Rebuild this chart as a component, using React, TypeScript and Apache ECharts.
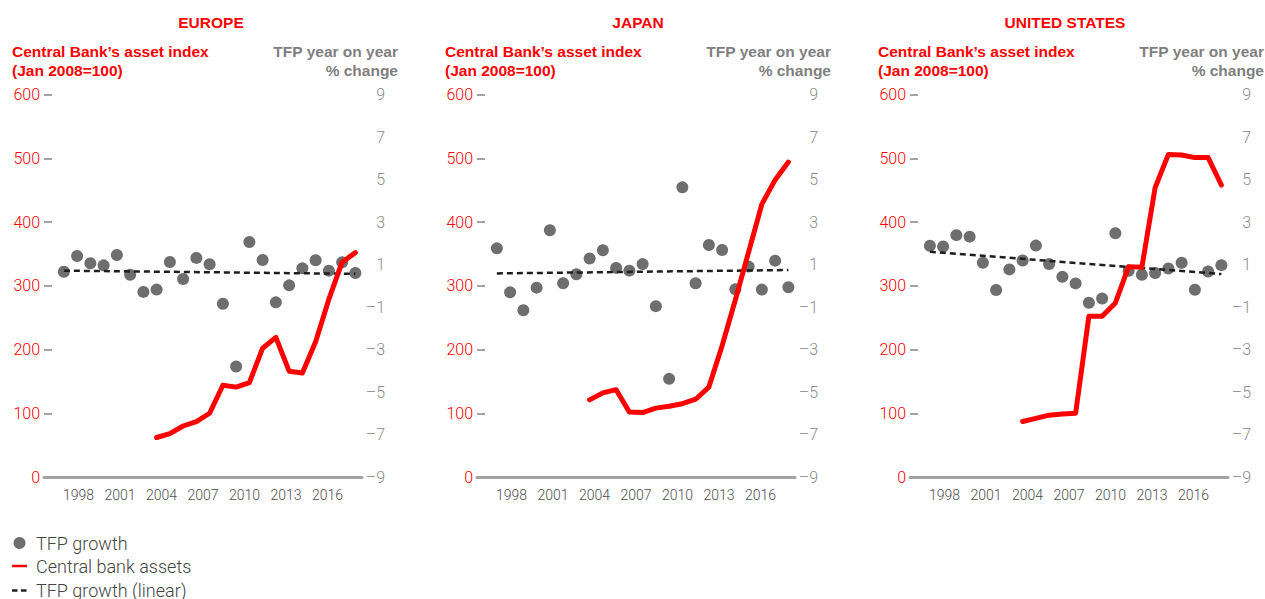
import React, { useEffect, useRef } from "react";
import * as echarts from "echarts";

// ---------- DATA ----------
const years = [1997, 1998, 1999, 2000, 2001, 2002, 2003, 2004, 2005, 2006, 2007, 2008, 2009, 2010, 2011, 2012, 2013, 2014, 2015, 2016, 2017, 2018, 2019];
const cbYears = [2004, 2005, 2006, 2007, 2008, 2009, 2010, 2011, 2012, 2013, 2014, 2015, 2016, 2017, 2018, 2019];
const axisLabelYears = ["1996", "1997", "1998", "1999", "2000", "2001", "2002", "2003", "2004", "2005", "2006", "2007", "2008", "2009", "2010", "2011", "2012", "2013", "2014", "2015", "2016", "2017", "2018"];
const shownLabels = ["1998", "2001", "2004", "2007", "2010", "2013", "2016"];

const regions = ["EUROPE", "JAPAN", "UNITED STATES"];

const europeTfp = [0.66, 1.40, 1.06, 0.96, 1.45, 0.52, -0.29, -0.18, 1.12, 0.32, 1.31, 1.01, -0.85, -3.80, 2.06, 1.21, -0.78, 0.02, 0.82, 1.20, 0.71, 1.10, 0.60];
const japanTfp = [1.76, -0.31, -1.15, -0.09, 2.61, 0.12, 0.54, 1.28, 1.67, 0.84, 0.71, 1.02, -0.96, -4.38, 4.63, 0.12, 1.92, 1.68, -0.17, 0.90, -0.18, 1.18, -0.07];
const usTfp = [1.88, 1.85, 2.38, 2.31, 1.08, -0.20, 0.77, 1.19, 1.89, 1.02, 0.42, 0.11, -0.80, -0.60, 2.47, 0.70, 0.52, 0.60, 0.81, 1.08, -0.19, 0.67, 0.97];

const europeCb = [62, 68, 80, 87, 100, 144, 141, 148, 202, 219, 166, 163, 212, 279, 337, 352];
const japanCb = [121, 132, 137, 102, 101, 108, 111, 115, 122, 141, 206, 278, 353, 428, 466, 494];
const usCb = [87, 92, 97, 99, 100, 252, 252, 273, 330, 329, 454, 506, 505, 501, 501, 458];

// linear trend endpoints (1997, 2019)
const europeTrend = [0.71, 0.56];
const japanTrend = [0.58, 0.74];
const usTrend = [1.60, 0.55];

const leftTicks = { min: 0, max: 600, interval: 100 };
const rightTicks = { min: -9, max: 9, interval: 2 };

const tfpSets = [europeTfp, japanTfp, usTfp];
const cbSets = [europeCb, japanCb, usCb];
const trendSets = [europeTrend, japanTrend, usTrend];

const RED = "#ff0000";
const GREY_DOT = "#6e6e6e";
const LIGHT = "Roboto, 'Liberation Sans', Arial, sans-serif";
const BOLD = "'Liberation Sans', Arial, sans-serif";

export default function App() {
  const ref = useRef<HTMLDivElement>(null);

  useEffect(() => {
    if (!ref.current) return;
    const chart = echarts.init(ref.current, undefined, { renderer: "svg" });

    const panelStep = 433;
    const grids: any[] = [];
    const xAxes: any[] = [];
    const yAxes: any[] = [];
    const series: any[] = [];
    const graphics: any[] = [];
    const titleCenters = [211, 638, 1065];

    regions.forEach((name, i) => {
      const left = 44 + panelStep * i;
      grids.push({ left, top: 94.5, width: 318, height: 382.5 });

      xAxes.push({
        type: "value",
        gridIndex: i,
        min: 1995.5,
        max: 2019.5,
        axisLine: { show: true, lineStyle: { color: "#a3a3a3", width: 3 } },
        axisTick: { show: false },
        axisLabel: { show: false },
        splitLine: { show: false },
      });
      xAxes.push({
        type: "category",
        gridIndex: i,
        position: "bottom",
        data: axisLabelYears,
        boundaryGap: true,
        axisLine: { show: false },
        axisTick: { show: false },
        splitLine: { show: false },
        axisLabel: {
          interval: (_idx: number, val: string) => shownLabels.indexOf(val) >= 0,
          color: "#4d4d4d",
          fontSize: 14,
          fontFamily: LIGHT,
          fontWeight: 300,
          margin: 11,
        },
      });

      yAxes.push({
        type: "value",
        gridIndex: i,
        position: "left",
        min: leftTicks.min,
        max: leftTicks.max,
        interval: leftTicks.interval,
        axisLine: { show: false },
        axisTick: { show: true, inside: true, length: 8, lineStyle: { color: "#a3a3a3", width: 2 } },
        splitLine: { show: false },
        axisLabel: { color: RED, fontSize: 16, fontFamily: LIGHT, fontWeight: 300, margin: 4 },
      });
      yAxes.push({
        type: "value",
        gridIndex: i,
        position: "right",
        min: rightTicks.min,
        max: rightTicks.max,
        interval: rightTicks.interval,
        axisLine: { show: false },
        axisTick: { show: false },
        splitLine: { show: false },
        axisLabel: {
          color: "#8c8c8c",
          fontSize: 16,
          fontFamily: LIGHT,
          fontWeight: 300,
          align: "right",
          margin: 23,
          formatter: (v: number) => (v < 0 ? "\u2013" + Math.abs(v) : String(v)),
        },
      });

      series.push({
        type: "scatter",
        name: "TFP growth",
        xAxisIndex: 2 * i,
        yAxisIndex: 2 * i + 1,
        data: years.map((y, k) => [y, tfpSets[i][k]]),
        symbolSize: 12,
        itemStyle: { color: GREY_DOT, opacity: 1 },
        z: 2,
      });
      series.push({
        type: "line",
        name: "TFP growth (linear)",
        xAxisIndex: 2 * i,
        yAxisIndex: 2 * i + 1,
        data: [
          [years[0], trendSets[i][0]],
          [years[years.length - 1], trendSets[i][1]],
        ],
        showSymbol: false,
        symbol: "none",
        lineStyle: { color: "#1e1e1e", width: 2.5, type: [6, 4] },
        z: 3,
      });
      series.push({
        type: "line",
        name: "Central bank assets",
        xAxisIndex: 2 * i,
        yAxisIndex: 2 * i,
        data: cbYears.map((y, k) => [y, cbSets[i][k]]),
        showSymbol: false,
        symbol: "none",
        lineStyle: { color: RED, width: 5, join: "round", cap: "round" },
        z: 4,
      });

      const textLeft = 12 + panelStep * i;
      const textRight = 398 + panelStep * i;
      graphics.push({
        type: "text",
        x: titleCenters[i],
        y: 22,
        style: { text: name, fill: RED, font: `bold 15.5px ${BOLD}`, align: "center", verticalAlign: "middle" },
      });
      graphics.push({
        type: "text",
        x: textLeft,
        y: 42,
        style: {
          text: "Central Bank\u2019s asset index\n(Jan 2008=100)",
          fill: RED,
          font: `bold 15.5px ${BOLD}`,
          lineHeight: 19,
          align: "left",
          verticalAlign: "top",
        },
      });
      graphics.push({
        type: "text",
        x: textRight,
        y: 42,
        style: {
          text: "TFP year on year\n% change",
          fill: "#7f7f7f",
          font: `bold 15.5px ${BOLD}`,
          lineHeight: 19,
          align: "right",
          verticalAlign: "top",
        },
      });
    });

    // legend
    graphics.push({ type: "circle", shape: { cx: 19.5, cy: 543, r: 6 }, style: { fill: GREY_DOT } });
    graphics.push({ type: "line", shape: { x1: 12, y1: 566, x2: 27, y2: 566 }, style: { stroke: RED, lineWidth: 2.5 } });
    graphics.push({ type: "line", shape: { x1: 12, y1: 590.5, x2: 27, y2: 590.5 }, style: { stroke: "#222", lineWidth: 2.5, lineDash: [5.5, 3.5] } });
    const legendTexts = ["TFP growth", "Central bank assets", "TFP growth (linear)"];
    const legendY = [543, 566, 590];
    legendTexts.forEach((t, k) => {
      graphics.push({
        type: "text",
        x: 36,
        y: legendY[k],
        style: { text: t, fill: "#444", font: `300 18px ${LIGHT}`, align: "left", verticalAlign: "middle" },
      });
    });

    chart.setOption({
      animation: false,
      backgroundColor: "#ffffff",
      grid: grids,
      xAxis: xAxes,
      yAxis: yAxes,
      series,
      graphic: graphics,
    });

    return () => chart.dispose();
  }, []);

  return (
    <div
      ref={ref}
      style={{ position: "fixed", left: 0, top: 0, width: 1265, height: 599 }}
    />
  );
}
